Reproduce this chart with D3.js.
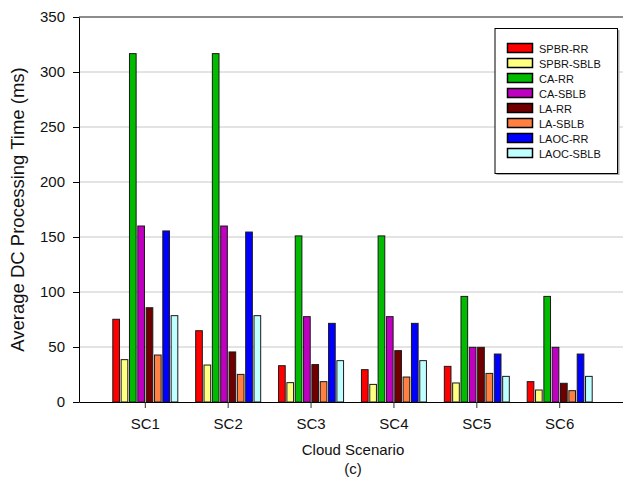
<!DOCTYPE html>
<html>
<head>
<meta charset="utf-8">
<script src="https://cdn.jsdelivr.net/npm/d3@7"></script>
<style>
    body { margin: 0; background: white; }
    text { font-family: "Liberation Sans", Arial, sans-serif; fill: #111; }
</style>
</head>
<body>
<div id="chart"></div>
<script>
const scenarios = ["SC1", "SC2", "SC3", "SC4", "SC5", "SC6"];
const seriesNames = ["SPBR-RR", "SPBR-SBLB", "CA-RR", "CA-SBLB", "LA-RR", "LA-SBLB", "LAOC-RR", "LAOC-SBLB"];
const seriesColors = ["#ff0000", "#ffff80", "#00bb00", "#c000c0", "#700000", "#ff8040", "#0000ff", "#c0ffff"];

const spbrRR = [75.2, 64.8, 33, 29.4, 32.4, 18.5];
const spbrSBLB = [38.5, 33.6, 17.6, 16, 17.3, 10.9];
const caRR = [316.7, 316.7, 151, 151, 96, 96];
const caSBLB = [160, 160, 77.6, 77.6, 49.7, 49.7];
const laRR = [85.7, 45.5, 34, 46.7, 49.7, 17];
const laSBLB = [42.7, 25.1, 18.5, 22.7, 26, 10.3];
const laocRR = [155.5, 154.5, 71.5, 71.5, 43.6, 43.6];
const laocSBLB = [78.5, 78.5, 37.6, 37.6, 23.3, 23.3];

const yTicks = [0, 50, 100, 150, 200, 250, 300, 350];

const allSeries = [spbrRR, spbrSBLB, caRR, caSBLB, laRR, laSBLB, laocRR, laocSBLB];

const width = 623;
const height = 479;
const margin = { top: 17, right: -3, bottom: 77, left: 79 };

const svg = d3.select("#chart")
    .append("svg")
    .attr("width", width)
    .attr("height", height);

const x0 = d3.scaleBand()
    .domain(scenarios)
    .range([margin.left, width - margin.right])
    .paddingInner(0)
    .paddingOuter(0.3);

const x1 = d3.scaleBand()
    .domain(seriesNames)
    .range([0, 65])
    .paddingInner(0.2);

const y = d3.scaleLinear()
    .domain([0, 350])
    .range([height - margin.bottom, margin.top]);

// grid lines
svg.append("g")
    .selectAll("line")
    .data(yTicks.filter(d => d > 0 && d < 350))
    .enter()
    .append("line")
    .attr("x1", margin.left)
    .attr("x2", width)
    .attr("y1", d => y(d))
    .attr("y2", d => y(d))
    .attr("stroke", "#c8c8c8")
    .attr("stroke-width", 1);

// top frame line
svg.append("line")
    .attr("x1", margin.left)
    .attr("x2", width)
    .attr("y1", y(350))
    .attr("y2", y(350))
    .attr("stroke", "#666")
    .attr("stroke-width", 1.5);

// bars
const groups = svg.append("g")
    .selectAll("g")
    .data(scenarios)
    .enter()
    .append("g")
    .attr("transform", d => `translate(${x0(d) + x0.bandwidth() / 2 - 32.5},0)`);

groups.selectAll("rect")
    .data((d, i) => seriesNames.map((name, j) => ({ name: name, value: allSeries[j][i], color: seriesColors[j] })))
    .enter()
    .append("rect")
    .attr("x", d => x1(d.name))
    .attr("y", d => y(d.value))
    .attr("width", x1.bandwidth())
    .attr("height", d => y(0) - y(d.value))
    .attr("fill", d => d.color)
    .attr("stroke", "#1a1a1a")
    .attr("stroke-width", 1);

// axes
const xAxis = svg.append("g")
    .attr("transform", `translate(0,${y(0)})`)
    .call(d3.axisBottom(x0).tickSize(6).tickSizeOuter(0).tickPadding(10));
xAxis.selectAll("text").style("font-size", "15px").attr("fill", "#111");
xAxis.selectAll("line").attr("stroke", "#333");
xAxis.select(".domain").attr("stroke", "#000");

const yAxis = svg.append("g")
    .attr("transform", `translate(${margin.left},0)`)
    .call(d3.axisLeft(y).tickValues(yTicks).tickSize(6).tickSizeOuter(0).tickPadding(8));
yAxis.selectAll("text").style("font-size", "15px").attr("fill", "#111");
yAxis.selectAll("line").attr("stroke", "#000");
yAxis.select(".domain").attr("stroke", "#000");

// axis titles
svg.append("text")
    .attr("text-anchor", "middle")
    .attr("x", 353)
    .attr("y", 455)
    .style("font-size", "15px")
    .text("Cloud Scenario");

svg.append("text")
    .attr("text-anchor", "middle")
    .attr("x", 353)
    .attr("y", 474)
    .style("font-size", "15px")
    .text("(c)");

svg.append("text")
    .attr("text-anchor", "middle")
    .attr("transform", "translate(23.5,209.5) rotate(-90)")
    .style("font-size", "18.5px")
    .text("Average DC Processing Time (ms)");

// legend
const legend = svg.append("g");

legend.append("rect")
    .attr("x", 496.5)
    .attr("y", 30)
    .attr("width", 123)
    .attr("height", 145)
    .attr("fill", "#aaa");

legend.append("rect")
    .attr("x", 495)
    .attr("y", 28.5)
    .attr("width", 122.5)
    .attr("height", 145)
    .attr("fill", "white")
    .attr("stroke", "#000")
    .attr("stroke-width", 1);

const items = legend.selectAll(".item")
    .data(seriesNames)
    .enter()
    .append("g")
    .attr("class", "item")
    .attr("transform", (d, i) => `translate(0,${43.5 + i * 15})`);

items.append("rect")
    .attr("x", 507.5)
    .attr("y", 0)
    .attr("width", 25)
    .attr("height", 9)
    .attr("fill", (d, i) => seriesColors[i])
    .attr("stroke", "#000")
    .attr("stroke-width", 1.5);

items.append("text")
    .attr("x", 539)
    .attr("y", 9)
    .style("font-size", "11px")
    .text(d => d);
</script>
</body>
</html>
